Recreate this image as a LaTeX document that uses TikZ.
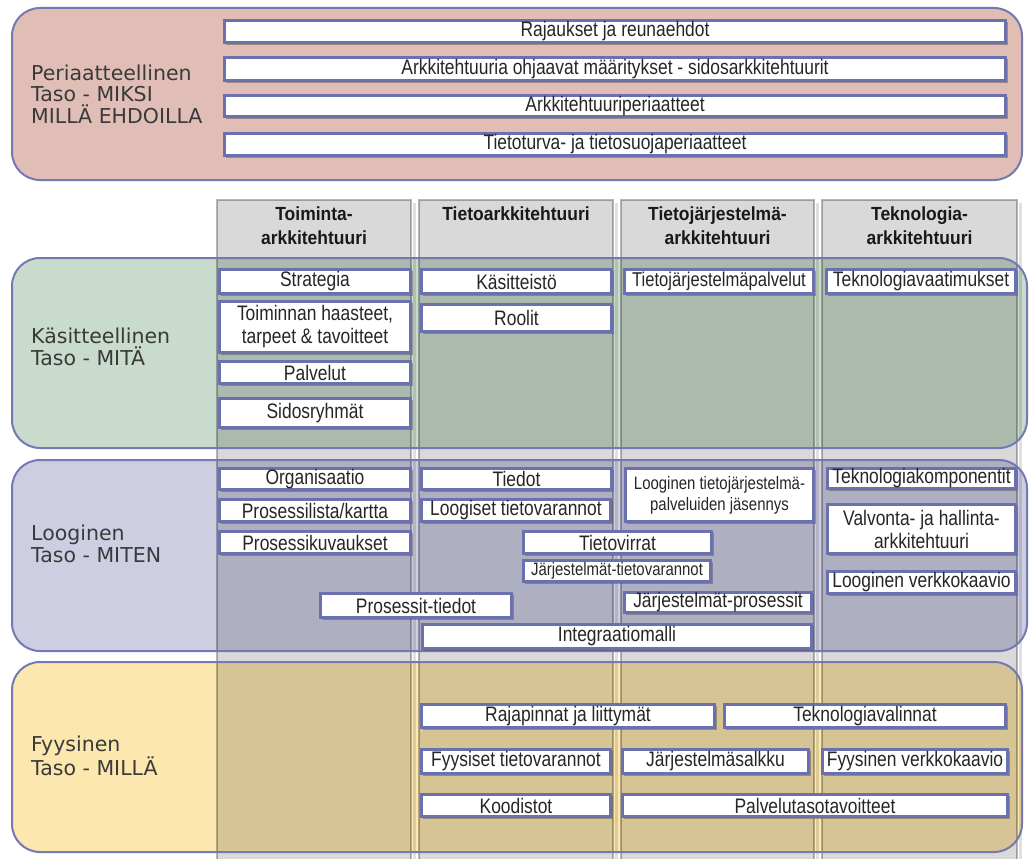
\documentclass[tikz,border=0pt]{standalone}
\usepackage{fontspec}
\setmainfont{Liberation Sans}
\newfontfamily\narrowfont[FakeStretch=0.83]{Liberation Sans}
\newfontfamily\headfont[FakeStretch=0.92]{Liberation Sans}
\newfontfamily\labelfont{DejaVu Sans}
\usetikzlibrary{shadows}

\definecolor{edgeblue}{HTML}{6B70AE}
\definecolor{bandedge}{HTML}{7479B4}
\definecolor{bandpink}{HTML}{E0BEB6}
\definecolor{bandgreen}{HTML}{C9DBCC}
\definecolor{bandlilac}{HTML}{CDCEE2}
\definecolor{bandyellow}{HTML}{FCE7AF}
\definecolor{textgrey}{HTML}{262626}
\definecolor{labelgrey}{HTML}{3A3A3A}

\tikzset{
  band/.style={rounded corners=28pt},
  bandline/.style={band, draw=bandedge, line width=2pt},
  colfill/.style={fill=black, fill opacity=0.15},
  colline/.style={draw=black, draw opacity=0.28, line width=2.2pt},
  colshade/.style={fill=black, fill opacity=0.12},
  cell/.style={draw=edgeblue, line width=2.6pt, fill=white, inner sep=0pt,
    align=center, text=textgrey, font=\narrowfont\fontsize{21}{23}\selectfont,
    drop shadow={shadow xshift=2pt, shadow yshift=-2pt, opacity=0.45, fill=black!70}},
  cellsmall/.style={font=\narrowfont\fontsize{18}{21}\selectfont},
  cellmid/.style={font=\narrowfont\fontsize{20}{22}\selectfont},
  head/.style={anchor=north, inner sep=0pt, align=center, text=black!90,
    font=\headfont\bfseries\fontsize{19}{24}\selectfont},
  levellabel/.style={anchor=west, inner sep=0pt, align=left, text=labelgrey,
    font=\labelfont\fontsize{20.5}{21.5}\selectfont},
}

% \archbox[options]{name}{x1}{y1}{x2}{y2}{text}: a white box between two corners
\newcommand\archbox[7][]{%
  \node[cell,#1,minimum width={#5-#3-2.6},minimum height={#6-#4-2.6}]
    (#2) at ({(#3+#5)/2},{(#4+#6)/2}) {#7};}

\begin{document}
\begin{tikzpicture}[x=1pt,y=-1pt]
\useasboundingbox (0,0) rectangle (1031,859);
\fill[white] (0,0) rectangle (1031,859);

% level bands
\fill[band, bandpink]   (12,8)   rectangle (1022,180);
\fill[band, bandgreen]  (12,258) rectangle (1027,448);
\fill[band, bandlilac]  (12,460) rectangle (1027,651);
\fill[band, bandyellow] (12,662) rectangle (1022,852);

% architecture columns
\foreach \xa/\xb in {217/411, 419/613, 621/814, 822/1017} {
  \fill[colshade] (\xb+1.5,203) rectangle (\xb+4.5,870);
  \path[colfill] (\xa,200) rectangle (\xb,870);
  \draw[colline] (\xa,870) -- (\xa,200) -- (\xb,200) -- (\xb,870);
}

% band outlines
\draw[bandline] (12,8)   rectangle (1022,180);
\draw[bandline] (12,258) rectangle (1027,448);
\draw[bandline] (12,460) rectangle (1027,651);
\draw[bandline] (12,662) rectangle (1022,852);

% level labels
\node[levellabel] (lvl1) at (31,94)  {Periaatteellinen\\Taso - MIKSI\\MILLÄ EHDOILLA};
\node[levellabel] (lvl2) at (31,347) {Käsitteellinen\\Taso - MITÄ};
\node[levellabel] (lvl3) at (31,544) {Looginen\\Taso - MITEN};
\node[levellabel] (lvl4) at (31,756) {Fyysinen\\Taso - MILLÄ};

% column headings
\node[head] (h1) at (314,207)   {Toiminta-\\arkkitehtuuri};
\node[head] (h2) at (516,207)   {Tietoarkkitehtuuri};
\node[head] (h3) at (717.5,207) {Tietojärjestelmä-\\arkkitehtuuri};
\node[head] (h4) at (919.5,207) {Teknologia-\\arkkitehtuuri};

% principles
\archbox{p1}{223}{19}{1007}{44}{Rajaukset ja reunaehdot}
\archbox{p2}{223}{56}{1007}{82}{Arkkitehtuuria  ohjaavat  määritykset  - sidosarkkitehtuurit}
\archbox{p3}{223}{94}{1007}{118}{Arkkitehtuuriperiaatteet}
\archbox{p4}{223}{132}{1007}{157}{Tietoturva- ja tietosuojaperiaatteet}

% conceptual level
\archbox{k1}{218}{268}{412}{295}{Strategia}
\archbox{k2}{218}{300}{412}{354}{Toiminnan  haasteet,\\tarpeet \& tavoitteet}
\archbox{k3}{218}{360}{412}{385}{Palvelut}
\archbox{k4}{218}{397}{412}{429}{Sidosryhmät}
\archbox{k5}{420}{268}{613}{295}{Käsitteistö}
\archbox{k6}{420}{303}{613}{333}{Roolit}
\archbox[cellmid]{k7}{623}{268}{815}{295}{Tietojärjestelmäpalvelut}
\archbox{k8}{825}{268}{1017}{295}{Teknologiavaatimukset}

% logical level
\archbox{l1}{218}{467}{412}{491}{Organisaatio}
\archbox{l2}{218}{498}{412}{523}{Prosessilista/kartta}
\archbox{l3}{218}{530}{412}{555}{Prosessikuvaukset}
\archbox{l4}{420}{467}{613}{491}{Tiedot}
\archbox{l5}{420}{498}{612}{523}{Loogiset tietovarannot}
\archbox[cellsmall]{l6}{624}{467}{815}{523}{Looginen tietojärjestelmä-\\palveluiden jäsennys}
\archbox{l7}{826}{467}{1017}{490}{Teknologiakomponentit}
\archbox{l8}{826}{503}{1017}{555}{Valvonta- ja hallinta-\\arkkitehtuuri}
\archbox{l9}{522}{530}{713}{555}{Tietovirrat}
\archbox[cellsmall]{l10}{522}{559}{712}{583}{Järjestelmät-tietovarannot}
\archbox{l11}{826}{570}{1017}{595}{Looginen  verkkokaavio}
\archbox{l12}{319}{592}{513}{619}{Prosessit-tiedot}
\archbox{l13}{623}{591}{813}{614}{Järjestelmät-prosessit}
\archbox{l14}{421}{623}{813}{650}{Integraatiomalli}

% physical level
\archbox{f1}{420}{703}{716}{729}{Rajapinnat ja liittymät}
\archbox{f2}{723}{703}{1007}{729}{Teknologiavalinnat}
\archbox{f3}{420}{748}{612}{775}{Fyysiset tietovarannot}
\archbox{f4}{621}{748}{810}{775}{Järjestelmäsalkku}
\archbox{f5}{821}{748}{1009}{775}{Fyysinen  verkkokaavio}
\archbox{f6}{420}{793}{612}{818}{Koodistot}
\archbox{f7}{621}{793}{1009}{818}{Palvelutasotavoitteet}
\end{tikzpicture}
\end{document}
